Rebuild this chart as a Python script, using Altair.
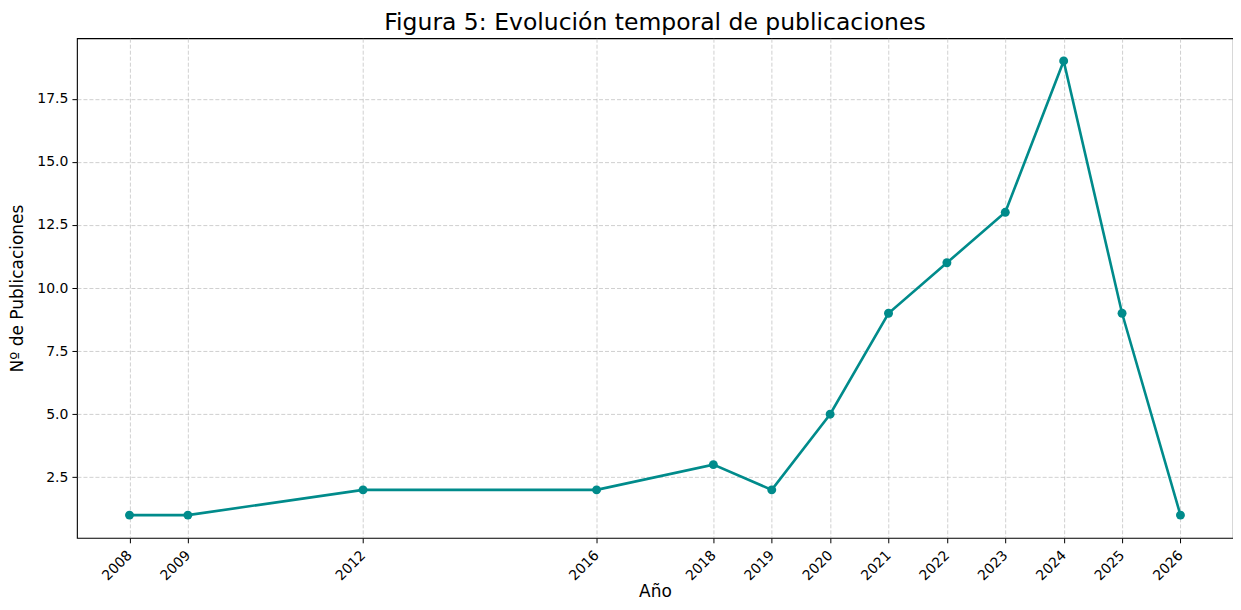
import altair as alt
import pandas as pd

years = [2008, 2009, 2012, 2016, 2018, 2019, 2020, 2021, 2022, 2023, 2024, 2025, 2026]
counts = [1, 1, 2, 2, 3, 2, 5, 9, 11, 13, 19, 9, 1]
y_ticks = [2.5, 5.0, 7.5, 10.0, 12.5, 15.0, 17.5]

df = pd.DataFrame({"Año": years, "Publicaciones": counts})

FONT = "DejaVu Sans"
COLOR = "#008B8B"
GRID = dict(grid=True, gridDash=[4, 2], gridColor="#b0b0b0", gridOpacity=0.6)

x = alt.X(
    "Año:Q",
    scale=alt.Scale(domain=[2007.1, 2026.9], nice=False, zero=False),
    axis=alt.Axis(
        title="Año",
        values=years,
        format="d",
        labelAngle=-45,
        labelAlign="right",
        labelBaseline="middle",
        labelFontSize=14,
        labelFont=FONT,
        labelColor="#000000",
        titleFont=FONT,
        titleFontSize=17,
        titleFontWeight="normal",
        titleColor="#000000",
        tickColor="#000000",
        tickSize=5,
        labelPadding=10,
        titlePadding=1,
        domain=False,
        labelOverlap=False,
        **GRID,
    ),
)
y = alt.Y(
    "Publicaciones:Q",
    scale=alt.Scale(domain=[0.1, 19.9], nice=False, zero=False),
    axis=alt.Axis(
        title="Nº de Publicaciones",
        values=y_ticks,
        format=".1f",
        labelFontSize=14,
        labelFont=FONT,
        labelColor="#000000",
        titleFont=FONT,
        titleFontSize=17,
        titleFontWeight="normal",
        titleColor="#000000",
        tickColor="#000000",
        tickSize=5,
        labelPadding=4,
        titlePadding=10,
        domain=False,
        **GRID,
    ),
)

line = alt.Chart(df).mark_line(color=COLOR, strokeWidth=2.6).encode(x=x, y=y)
pts = alt.Chart(df).mark_circle(color=COLOR, size=80, opacity=1).encode(x=x, y=y)

chart = (
    (line + pts)
    .properties(
        width=1157,
        height=500,
        background="#ffffff",
        title=alt.TitleParams(
            "Figura 5: Evolución temporal de publicaciones",
            font=FONT,
            fontSize=23.5,
            fontWeight="normal",
            color="#000000",
            anchor="middle",
            offset=4,
        ),
        padding={"left": 0, "right": 0, "top": 2, "bottom": 0},
    )
    .configure_view(stroke="#000000", strokeWidth=1.1)
)

chart.save("out.html", embed_options={"renderer": "svg", "actions": False})
